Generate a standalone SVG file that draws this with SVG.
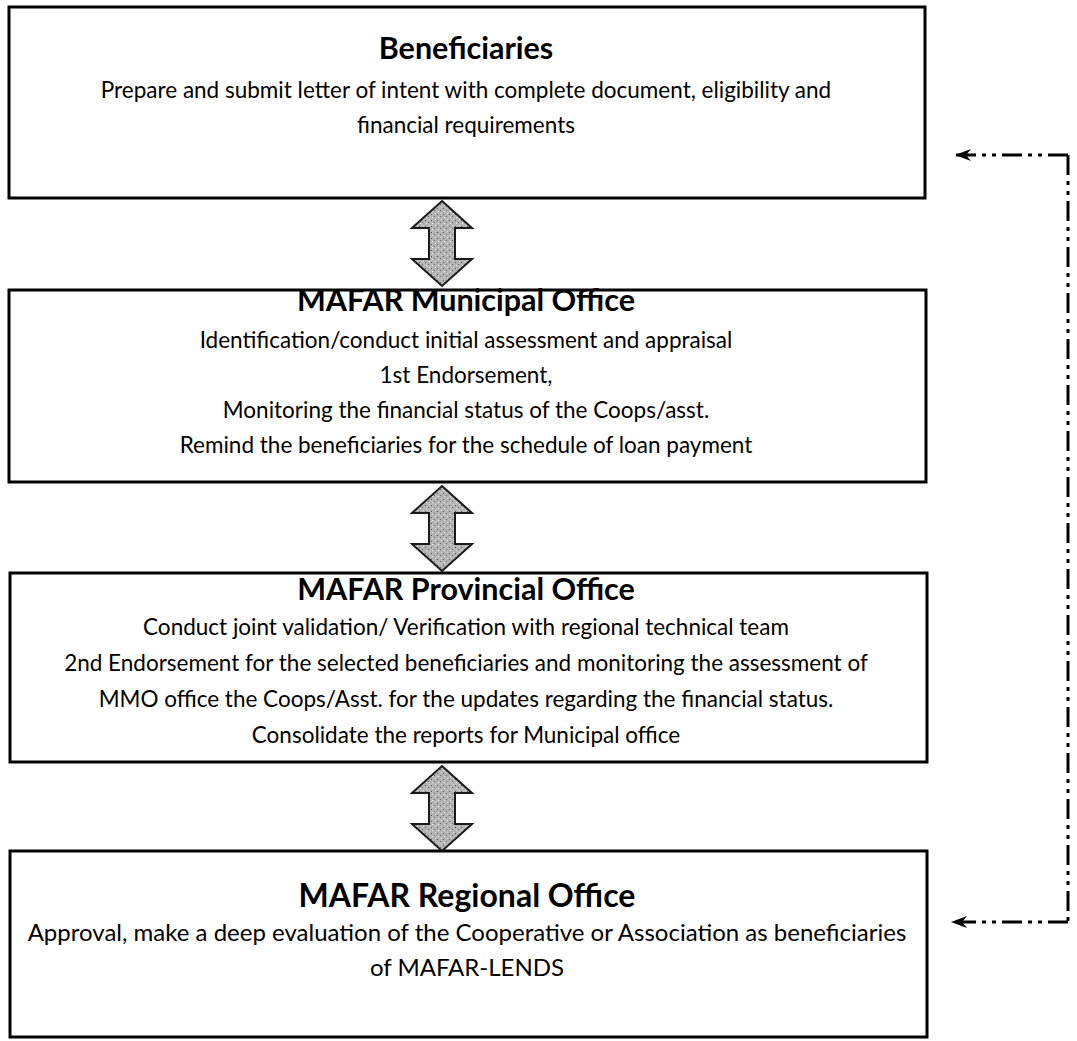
<svg xmlns="http://www.w3.org/2000/svg" width="1077" height="1041" viewBox="0 0 1077 1041">
<style>
.box{fill:#fff;stroke:#000;stroke-width:3}
.t{font-family:Lato,"Liberation Sans",sans-serif;fill:#000;text-anchor:middle}
.h{font-weight:bold;font-size:30.5px}
.b{font-size:22.5px}
.hr{font-weight:bold;font-size:32px}
.br{font-size:24px}
.dash{fill:none;stroke:#000;stroke-width:3;stroke-dasharray:20 6 4 6 4 6}
.dbl{fill:url(#stipple);stroke:#1a1a1a;stroke-width:2;stroke-linejoin:miter}
</style>
<defs>
<pattern id="stipple" width="6" height="6" patternUnits="userSpaceOnUse">
<rect width="6" height="6" fill="#b4b4b4"/>
<rect x="1" y="1" width="1" height="1" fill="#555"/>
<rect x="4" y="3" width="1" height="1" fill="#666"/>
<rect x="2" y="4" width="1" height="1" fill="#eee"/>
<rect x="5" y="0" width="1" height="1" fill="#ddd"/>
</pattern>
<marker id="arrowhead" viewBox="0 0 16 12" refX="15" refY="6" markerWidth="16" markerHeight="12" markerUnits="userSpaceOnUse" orient="auto">
<path d="M0,0 L16,6 L0,12 L5,6 Z" fill="#000"/>
</marker>
<path id="darrow" class="dbl" d="M0,0 L30,27 L13,27 L13,58 L30,58 L0,85 L-30,58 L-13,58 L-13,27 L-30,27 Z"/>
</defs>
<rect width="1077" height="1041" fill="#fff"/>

<g id="node-beneficiaries">
<rect class="box" x="9" y="7" width="916" height="191"/>
<text class="t h" x="466" y="59">Beneficiaries</text>
<text class="t b" x="466" y="98">Prepare and submit letter of intent with complete document, eligibility and</text>
<text class="t b" x="466" y="133">financial requirements</text>
</g>

<g id="node-municipal">
<rect class="box" x="9" y="290" width="917" height="192"/>
<text class="t h" x="466" y="311">MAFAR Municipal Office</text>
<text class="t b" x="466" y="348">Identification/conduct initial assessment and appraisal</text>
<text class="t b" x="466" y="383">1st Endorsement,</text>
<text class="t b" x="466" y="418">Monitoring the financial status of the Coops/asst.</text>
<text class="t b" x="466" y="453">Remind the beneficiaries for the schedule of loan payment</text>
</g>

<g id="node-provincial">
<rect class="box" x="10" y="573" width="917" height="189"/>
<text class="t h" x="466" y="600">MAFAR Provincial Office</text>
<text class="t b" x="466" y="635">Conduct joint validation/ Verification with regional technical team</text>
<text class="t b" x="466" y="671">2nd Endorsement for the selected beneficiaries and monitoring the assessment of</text>
<text class="t b" x="466" y="707">MMO office the Coops/Asst. for the updates regarding the financial status.</text>
<text class="t b" x="466" y="743">Consolidate the reports for Municipal office</text>
</g>

<g id="node-regional">
<rect class="box" x="10" y="851" width="917" height="186"/>
<text class="t hr" x="467" y="907">MAFAR Regional Office</text>
<text class="t br" x="467" y="941">Approval, make a deep evaluation of the Cooperative or Association as beneficiaries</text>
<text class="t br" x="467" y="976">of MAFAR-LENDS</text>
</g>

<g id="connectors">
<use href="#darrow" x="442" y="201"/>
<use href="#darrow" x="442" y="486"/>
<use href="#darrow" x="442" y="766"/>
<path class="dash" d="M1068,155 L1068,922"/>
<path class="dash" d="M1068,155 L956,155" marker-end="url(#arrowhead)"/>
<path class="dash" d="M1068,922 L952,922" marker-end="url(#arrowhead)"/>
</g>
</svg>
